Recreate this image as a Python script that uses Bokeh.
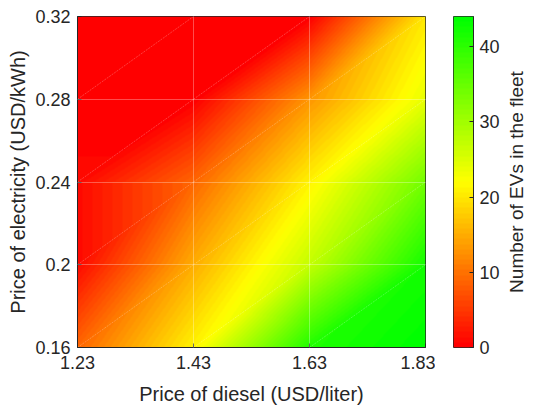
import numpy as np
from bokeh.plotting import figure
from bokeh.models import LinearColorMapper, FixedTicker
from bokeh.layouts import row
from bokeh.embed import file_html
from bokeh.resources import INLINE

# ---- data ----
diesel_price = [1.23, 1.43, 1.63, 1.83]              # USD/liter
electricity_price = [0.16, 0.20, 0.24, 0.28, 0.32]   # USD/kWh
# number of EVs: one row per electricity price (bottom -> top), one column per diesel price
ev_count_rows = [
    [9, 21, 41, 44],
    [1, 15, 27, 42],
    [1, 9, 21, 34],
    [0, 0, 13, 24],
    [0, 0, 0, 20],
]
x_tick_labels = ["1.23", "1.43", "1.63", "1.83"]
y_tick_labels = ["0.16", "0.2", "0.24", "0.28", "0.32"]
cbar_ticks = [0, 10, 20, 30, 40]
cbar_low, cbar_high = 0, 44
cbar_title = "Number of EVs in the fleet"

TXT = "#262626"
FONT = "Liberation Sans"

# ---- red -> yellow -> green colormap (64 steps) ----
def rgy(t):
    if t <= 0.5:
        r, g = 255, int(round(510 * t))
    else:
        r, g = int(round(255 * (2 - 2 * t))), 255
    return "#%02x%02x%02x" % (r, g, 0)

palette = [rgy(i / 63) for i in range(64)]
mapper = LinearColorMapper(palette=palette, low=cbar_low, high=cbar_high)

# ---- interpolated shading over triangles of the data grid ----
xg = np.array(diesel_price)
yg = np.array(electricity_price)
Z = np.array(ev_count_rows, dtype=float)
nx, ny = 348, 332
xs = xg[0] + (np.arange(nx) + 0.5) * (xg[-1] - xg[0]) / nx
ys = yg[0] + (np.arange(ny) + 0.5) * (yg[-1] - yg[0]) / ny
ix = np.clip(np.searchsorted(xg, xs) - 1, 0, len(xg) - 2)
iy = np.clip(np.searchsorted(yg, ys) - 1, 0, len(yg) - 2)
s = (xs - xg[ix]) / (xg[ix + 1] - xg[ix])
t = (ys - yg[iy]) / (yg[iy + 1] - yg[iy])
S, T = np.meshgrid(s, t)
IX, IY = np.meshgrid(ix, iy)
f00 = Z[IY, IX]
f10 = Z[IY, IX + 1]
f01 = Z[IY + 1, IX]
f11 = Z[IY + 1, IX + 1]
lower = f00 + S * (f10 - f00) + T * (f11 - f10)
upper = f00 + T * (f01 - f00) + S * (f11 - f01)
field = np.where(S >= T, lower, upper)

# ---- main plot ----
p = figure(width=435, height=407, x_range=(xg[0], xg[-1]), y_range=(yg[0], yg[-1]),
           output_backend="svg", toolbar_location=None,
           min_border_left=77, min_border_right=10, min_border_top=16, min_border_bottom=59,
           background_fill_color="white", border_fill_color="white")
p.image(image=[field], x=xg[0], y=yg[0], dw=xg[-1] - xg[0], dh=yg[-1] - yg[0],
        color_mapper=mapper)

# faint seams along triangle diagonals
sx0, sy0, sx1, sy1 = [], [], [], []
for i in range(len(xg) - 1):
    for j in range(len(yg) - 1):
        sx0.append(xg[i]); sy0.append(yg[j]); sx1.append(xg[i + 1]); sy1.append(yg[j + 1])
p.segment(sx0, sy0, sx1, sy1, line_color="white", line_alpha=0.3, line_width=0.8,
          line_dash="2 1")

p.xaxis.ticker = FixedTicker(ticks=diesel_price)
p.xaxis.major_label_overrides = {k: v for k, v in zip(diesel_price, x_tick_labels)}
p.yaxis.ticker = FixedTicker(ticks=electricity_price)
p.yaxis.major_label_overrides = {k: v for k, v in zip(electricity_price, y_tick_labels)}
p.xaxis.axis_label = "Price of diesel (USD/liter)"
p.yaxis.axis_label = "Price of electricity (USD/kWh)"
for ax in (p.xaxis[0], p.yaxis[0]):
    ax.axis_line_color = TXT
    ax.major_tick_line_color = TXT
    ax.major_tick_in = 4
    ax.major_tick_out = 0
    ax.minor_tick_line_color = None
    ax.major_label_text_font = FONT
    ax.major_label_text_font_size = "18px"
    ax.major_label_text_color = TXT
    ax.axis_label_text_font = FONT
    ax.axis_label_text_font_size = "20px"
    ax.axis_label_text_font_style = "normal"
    ax.axis_label_text_color = TXT
p.xaxis.major_label_standoff = 8
p.yaxis.major_label_standoff = 7
p.xaxis.axis_label_standoff = 11
p.yaxis.axis_label_standoff = 3

p.grid.grid_line_color = "white"
p.grid.grid_line_alpha = 0.3
p.xgrid.level = "overlay"
p.ygrid.level = "overlay"
p.outline_line_color = TXT
p.outline_line_alpha = 1.0

# ---- colorbar as a separate narrow plot ----
cb = figure(width=68, height=407, x_range=(0, 1), y_range=(cbar_low, cbar_high),
            x_axis_location=None, y_axis_location="right",
            output_backend="svg", toolbar_location=None,
            min_border_left=18, min_border_right=30, min_border_top=16, min_border_bottom=59,
            background_fill_color="white", border_fill_color="white")
grad = np.linspace(cbar_low, cbar_high, 512).reshape(-1, 1)
cb.image(image=[grad], x=0, y=cbar_low, dw=1, dh=cbar_high - cbar_low, color_mapper=mapper)
cb.grid.visible = False
cb.yaxis.ticker = FixedTicker(ticks=cbar_ticks)
ay = cb.yaxis[0]
ay.axis_line_color = TXT
ay.major_tick_line_color = TXT
ay.major_tick_in = 4
ay.major_tick_out = 0
ay.minor_tick_line_color = None
ay.major_label_text_font = FONT
ay.major_label_text_font_size = "18px"
ay.major_label_text_color = TXT
ay.major_label_standoff = 6
cb.outline_line_color = TXT
cb.outline_line_alpha = 1.0

# ---- colorbar title (left title of an empty strip reads bottom-to-top) ----
ct = figure(width=45, height=407, title=cbar_title, title_location="left",
            x_axis_location=None, y_axis_location=None,
            output_backend="svg", toolbar_location=None,
            min_border_left=0, min_border_right=0, min_border_top=16, min_border_bottom=59,
            background_fill_color="white", border_fill_color="white")
ct.outline_line_color = None
ct.grid.visible = False
ct.title.align = "center"
ct.title.text_font = FONT
ct.title.text_font_size = "19px"
ct.title.text_font_style = "normal"
ct.title.text_color = TXT
ct.title.standoff = 0
ct.title.offset = 0

layout = row(p, cb, ct, spacing=0)
open("out.html", "w").write(file_html(layout, INLINE))
